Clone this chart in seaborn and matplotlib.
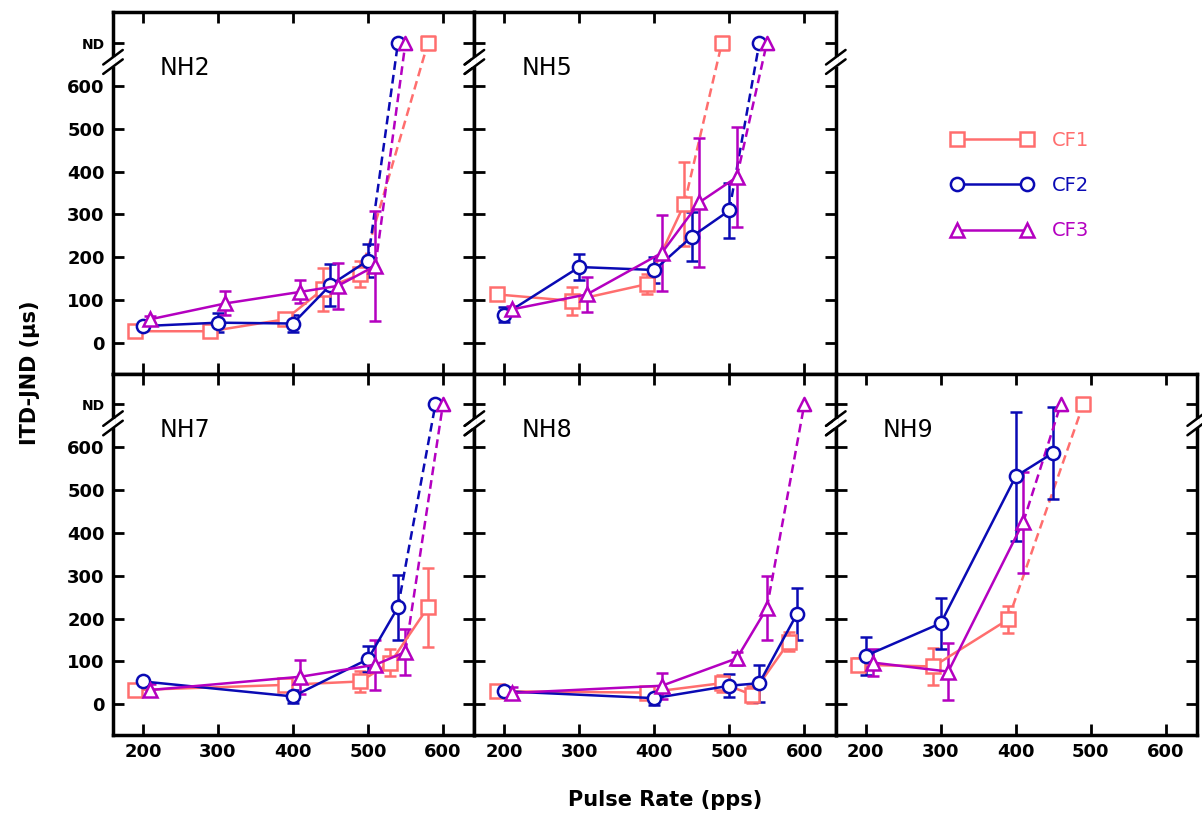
import matplotlib
matplotlib.use("Agg")
import matplotlib.pyplot as plt
from matplotlib.lines import Line2D
import seaborn as sns

# ITD-JND (us) vs pulse rate (pps), mean and error per listener and CF.
# *_nd = rate at which the JND was not determinable (None if never)
nh2_cf1_rate = [190, 290, 390, 440, 490]
nh2_cf1_jnd = [27, 27, 55, 125, 160]
nh2_cf1_err = [8, 8, 10, 50, 30]
nh2_cf2_rate = [200, 300, 400, 450, 500]
nh2_cf2_jnd = [39, 47, 45, 135, 192]
nh2_cf2_err = [8, 22, 20, 50, 38]
nh2_cf3_rate = [210, 310, 410, 460, 510]
nh2_cf3_jnd = [55, 92, 119, 133, 180]
nh2_cf3_err = [8, 28, 27, 53, 128]
nh2_nd = [580, 540, 550]

nh5_cf1_rate = [190, 290, 390, 440]
nh5_cf1_jnd = [113, 98, 137, 324]
nh5_cf1_err = [12, 33, 23, 98]
nh5_cf2_rate = [200, 300, 400, 450, 500]
nh5_cf2_jnd = [66, 177, 170, 248, 309]
nh5_cf2_err = [18, 31, 30, 57, 65]
nh5_cf3_rate = [210, 310, 410, 460, 510]
nh5_cf3_jnd = [78, 113, 210, 328, 387]
nh5_cf3_err = [8, 40, 88, 150, 117]
nh5_nd = [490, 540, 550]

nh7_cf1_rate = [190, 390, 490, 530, 580]
nh7_cf1_jnd = [33, 45, 53, 97, 226]
nh7_cf1_err = [10, 10, 25, 31, 93]
nh7_cf2_rate = [200, 400, 500, 540]
nh7_cf2_jnd = [53, 18, 105, 226]
nh7_cf2_err = [8, 15, 30, 76]
nh7_cf3_rate = [210, 410, 510, 550]
nh7_cf3_jnd = [33, 64, 92, 122]
nh7_cf3_err = [15, 40, 58, 53]
nh7_nd = [None, 590, 600]

nh8_cf1_rate = [190, 390, 490, 530, 580]
nh8_cf1_jnd = [30, 27, 49, 22, 146]
nh8_cf1_err = [8, 8, 20, 20, 23]
nh8_cf2_rate = [200, 400, 500, 540, 590]
nh8_cf2_jnd = [30, 14, 43, 49, 210]
nh8_cf2_err = [8, 15, 27, 43, 61]
nh8_cf3_rate = [210, 410, 510, 550]
nh8_cf3_jnd = [26, 43, 107, 224]
nh8_cf3_err = [15, 30, 15, 75]
nh8_nd = [None, None, 600]

nh9_cf1_rate = [190, 290, 390]
nh9_cf1_jnd = [92, 88, 198]
nh9_cf1_err = [15, 43, 31]
nh9_cf2_rate = [200, 300, 400, 450]
nh9_cf2_jnd = [113, 189, 532, 587]
nh9_cf2_err = [45, 60, 150, 108]
nh9_cf3_rate = [210, 310, 410]
nh9_cf3_jnd = [97, 76, 425]
nh9_cf3_err = [31, 66, 118]
nh9_nd = [490, None, 460]

cf_names = ["CF1", "CF2", "CF3"]
colors = ["#ff6e6e", "#0a0ab4", "#b400c0"]
markers = ["s", "o", "^"]
ND = 700
ytick_vals = [0, 100, 200, 300, 400, 500, 600, ND]
ytick_labels = ["0", "100", "200", "300", "400", "500", "600", "ND"]
xtick_vals = [200, 300, 400, 500, 600]

panels = [
    ("NH2", (0, 0), [(nh2_cf1_rate, nh2_cf1_jnd, nh2_cf1_err),
                     (nh2_cf2_rate, nh2_cf2_jnd, nh2_cf2_err),
                     (nh2_cf3_rate, nh2_cf3_jnd, nh2_cf3_err)], nh2_nd),
    ("NH5", (0, 1), [(nh5_cf1_rate, nh5_cf1_jnd, nh5_cf1_err),
                     (nh5_cf2_rate, nh5_cf2_jnd, nh5_cf2_err),
                     (nh5_cf3_rate, nh5_cf3_jnd, nh5_cf3_err)], nh5_nd),
    ("NH7", (1, 0), [(nh7_cf1_rate, nh7_cf1_jnd, nh7_cf1_err),
                     (nh7_cf2_rate, nh7_cf2_jnd, nh7_cf2_err),
                     (nh7_cf3_rate, nh7_cf3_jnd, nh7_cf3_err)], nh7_nd),
    ("NH8", (1, 1), [(nh8_cf1_rate, nh8_cf1_jnd, nh8_cf1_err),
                     (nh8_cf2_rate, nh8_cf2_jnd, nh8_cf2_err),
                     (nh8_cf3_rate, nh8_cf3_jnd, nh8_cf3_err)], nh8_nd),
    ("NH9", (1, 2), [(nh9_cf1_rate, nh9_cf1_jnd, nh9_cf1_err),
                     (nh9_cf2_rate, nh9_cf2_jnd, nh9_cf2_err),
                     (nh9_cf3_rate, nh9_cf3_jnd, nh9_cf3_err)], nh9_nd),
]

sns.set_theme(style="ticks")
plt.rcParams["font.family"] = ["DejaVu Sans"]
plt.rcParams["axes.edgecolor"] = "black"
plt.rcParams["xtick.color"] = "black"
plt.rcParams["ytick.color"] = "black"
plt.rcParams["text.color"] = "black"

fig, axes = plt.subplots(2, 3, figsize=(12.02, 8.18), dpi=100, sharex=True, sharey=True)
fig.subplots_adjust(left=0.094, right=0.996, top=0.985, bottom=0.1015, wspace=0, hspace=0)


def add_breaks(ax):
    tr = ax.get_yaxis_transform()
    for x0 in (0, 1):
        ax.plot([x0, x0], [645, 667], transform=tr, color="white", lw=4,
                clip_on=False, zorder=5, solid_capstyle="butt")
        for yc in (645, 667):
            ax.plot([x0 - 0.027, x0 + 0.027], [yc - 17, yc + 17], transform=tr,
                    color="black", lw=1.8, clip_on=False, zorder=6)


for name, (r, c), series, nds in panels:
    ax = axes[r, c]
    for (rate, jnd, err), nd_rate, col, mk in zip(series, nds, colors, markers):
        ax.errorbar(rate, jnd, yerr=err, fmt="none", ecolor=col, elinewidth=1.8,
                    capsize=4.5, capthick=1.8, zorder=2)
        if nd_rate is not None:
            sns.lineplot(x=[rate[-1], nd_rate], y=[jnd[-1], ND], ax=ax, color=col,
                         lw=1.8, linestyle=(0, (3.5, 2)), sort=False, zorder=2)
            sns.scatterplot(x=[nd_rate], y=[ND], ax=ax, marker=mk, s=90,
                            facecolor="white", edgecolor=col, linewidth=1.8, zorder=4)
        sns.lineplot(x=rate, y=jnd, ax=ax, color=col, lw=1.8, sort=False,
                     marker=mk, markersize=9.5, markerfacecolor="white",
                     markeredgecolor=col, markeredgewidth=1.8, zorder=3)
    ax.text(0.13, 0.845, name, transform=ax.transAxes, fontsize=17, va="center",
            color="black")
    add_breaks(ax)

for ax in axes.flat:
    ax.set_xlim(160, 642)
    ax.set_ylim(-72, 772)
    ax.set_xticks(xtick_vals)
    ax.set_yticks(ytick_vals)
    ax.tick_params(direction="in", length=8, width=2, top=True, right=True,
                   labelsize=13, pad=6, colors="black")
    for sp in ax.spines.values():
        sp.set_linewidth(2.5)
        sp.set_color("black")
    ax.set_xlabel("")
    ax.set_ylabel("")

for ax in axes[:, 0]:
    ax.set_yticklabels(ytick_labels, fontweight="bold", fontsize=13)
    ax.get_yticklabels()[-1].set_fontsize(10)
for ax in axes[1, :]:
    ax.set_xticklabels([str(v) for v in xtick_vals], fontweight="bold", fontsize=13)

axes[0, 2].axis("off")
handles = [Line2D([0], [0], color=col, marker=mk, markersize=9.5, markerfacecolor="white",
                  markeredgecolor=col, markeredgewidth=1.8, lw=1.8)
           for col, mk in zip(colors, markers)]
leg = axes[0, 2].legend(handles, cf_names, numpoints=2, frameon=False, loc="upper left",
                        bbox_to_anchor=(0.27, 0.72), handlelength=4.2, fontsize=14,
                        labelspacing=1.35, handletextpad=1.0)
for txt, col in zip(leg.get_texts(), colors):
    txt.set_color(col)

fig.text(0.025, 0.544, "ITD-JND (μs)", rotation=90, ha="center", va="center",
         fontsize=15, fontweight="bold")
fig.text(0.553, 0.022, "Pulse Rate (pps)", ha="center", va="center",
         fontsize=15, fontweight="bold")

fig.savefig("out.png", dpi=100)
